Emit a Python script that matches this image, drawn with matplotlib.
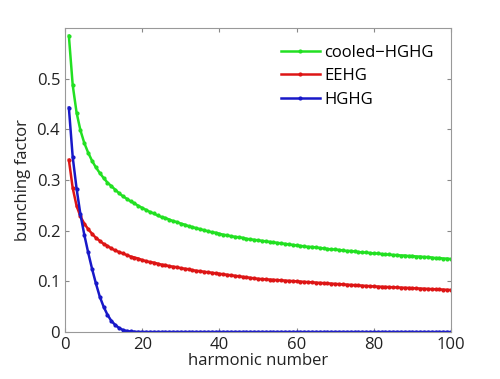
import numpy as np
import matplotlib
matplotlib.use('Agg')
import matplotlib.pyplot as plt

# harmonic number n = 1..100
harmonic = np.arange(1, 101)

# valores (bunching factor)
cooled_hghg = [
    0.585, 0.487, 0.433, 0.398, 0.373, 0.354, 0.338, 0.325, 0.314, 0.304,
    0.295, 0.288, 0.281, 0.274, 0.268, 0.263, 0.258, 0.254, 0.249, 0.245,
    0.241, 0.237, 0.234, 0.230, 0.227, 0.225, 0.222, 0.219, 0.217, 0.214,
    0.212, 0.209, 0.207, 0.205, 0.203, 0.201, 0.199, 0.197, 0.196, 0.194,
    0.192, 0.191, 0.189, 0.188, 0.187, 0.186, 0.184, 0.183, 0.182, 0.181,
    0.180, 0.179, 0.178, 0.177, 0.176, 0.175, 0.174, 0.173, 0.172, 0.171,
    0.170, 0.169, 0.168, 0.168, 0.167, 0.166, 0.165, 0.164, 0.163, 0.163,
    0.162, 0.161, 0.160, 0.160, 0.159, 0.158, 0.157, 0.157, 0.156, 0.155,
    0.155, 0.154, 0.153, 0.153, 0.152, 0.152, 0.151, 0.151, 0.150, 0.150,
    0.149, 0.149, 0.148, 0.148, 0.147, 0.146, 0.146, 0.145, 0.145, 0.144,
]

eehg = [
    0.340, 0.284, 0.249, 0.228, 0.214, 0.203, 0.194, 0.186, 0.180, 0.174,
    0.170, 0.165, 0.161, 0.158, 0.155, 0.152, 0.149, 0.147, 0.145, 0.142,
    0.140, 0.138, 0.137, 0.135, 0.133, 0.132, 0.130, 0.129, 0.128, 0.126,
    0.125, 0.124, 0.122, 0.121, 0.120, 0.119, 0.118, 0.117, 0.116, 0.115,
    0.114, 0.113, 0.112, 0.111, 0.110, 0.109, 0.108, 0.107, 0.106, 0.105,
    0.1045, 0.104, 0.1035, 0.103, 0.1025, 0.102, 0.1015, 0.101, 0.1005, 0.100,
    0.0995, 0.099, 0.0985, 0.098, 0.0975, 0.097, 0.0965, 0.096, 0.0955, 0.095,
    0.0945, 0.094, 0.0935, 0.093, 0.0925, 0.092, 0.0915, 0.091, 0.0905, 0.090,
    0.0897, 0.0893, 0.089, 0.0887, 0.0883, 0.088, 0.0876, 0.0873, 0.087, 0.0866,
    0.0862, 0.0858, 0.0855, 0.0851, 0.0847, 0.0844, 0.084, 0.0837, 0.0833, 0.083,
]

hghg = [
    0.443, 0.345, 0.283, 0.232, 0.192, 0.157, 0.125, 0.096, 0.070, 0.050,
    0.034, 0.022, 0.014, 0.008, 0.004, 0.002, 0.001, 0.0005, 0.0002, 0.0001,
] + [0.0] * 80

series_labels = ['cooled\u2212HGHG', 'EEHG', 'HGHG']
series_colors = ['#22e022', '#dd1515', '#1818c8']

xticks = [0, 20, 40, 60, 80, 100]
yticks = [0, 0.1, 0.2, 0.3, 0.4, 0.5]
ytick_labels = ['0', '0.1', '0.2', '0.3', '0.4', '0.5']

plt.rcParams['font.family'] = ['Open Sans', 'DejaVu Sans']

fig = plt.figure(figsize=(5.0, 3.79), dpi=100)
ax = fig.add_axes([0.13, 0.124, 0.772, 0.802])

for vals, lab, cor in zip([cooled_hghg, eehg, hghg], series_labels, series_colors):
    ax.plot(harmonic, vals, color=cor, lw=1.8, marker='.', markersize=4, label=lab)

ax.set_xlim(0, 100)
ax.set_ylim(0, 0.6)
ax.set_xticks(xticks)
ax.set_xticklabels([str(t) for t in xticks])
ax.set_yticks(yticks)
ax.set_yticklabels(ytick_labels)
ax.tick_params(direction='in', top=True, right=True, colors='#888888',
               labelcolor='#222222', labelsize=12, length=3)
for s in ax.spines.values():
    s.set_color('#999999')

ax.set_xlabel('harmonic number', fontsize=12, color='#222222', labelpad=0)
ax.set_ylabel('bunching factor', fontsize=12, color='#222222', labelpad=4)

ax.legend(loc='upper right', frameon=False, fontsize=12, numpoints=1,
          handlelength=2.3, labelspacing=0.45, handletextpad=0.3,
          bbox_to_anchor=(0.995, 0.995))

plt.savefig('out.png', dpi=100)
